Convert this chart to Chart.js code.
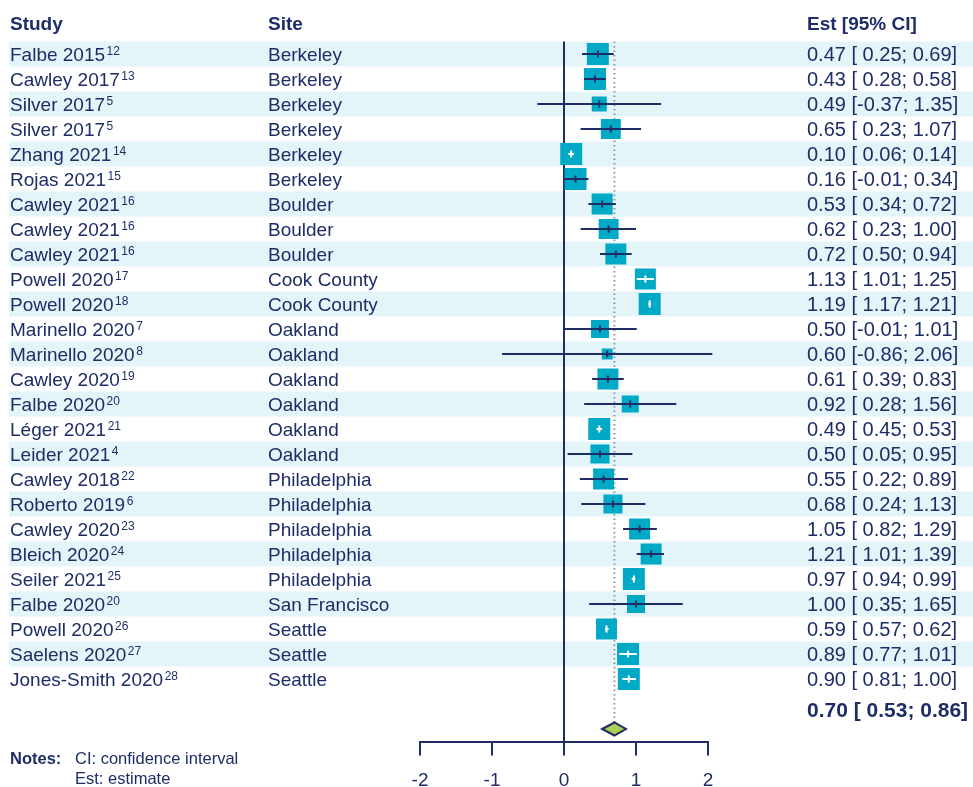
<!DOCTYPE html>
<html lang="en">
<head>
<meta charset="UTF-8">
<title>Forest plot</title>
<script src="https://cdn.jsdelivr.net/npm/chart.js"></script>
<style>
  body { margin: 0; background: #fff; }
</style>
</head>
<body>
<canvas id="forest" width="973" height="787"></canvas>
<script>
// study rows, top to bottom
const studies = ['Falbe 2015', 'Cawley 2017', 'Silver 2017', 'Silver 2017', 'Zhang 2021', 'Rojas 2021',
  'Cawley 2021', 'Cawley 2021', 'Cawley 2021', 'Powell 2020', 'Powell 2020', 'Marinello 2020',
  'Marinello 2020', 'Cawley 2020', 'Falbe 2020', 'Léger 2021', 'Leider 2021', 'Cawley 2018',
  'Roberto 2019', 'Cawley 2020', 'Bleich 2020', 'Seiler 2021', 'Falbe 2020', 'Powell 2020',
  'Saelens 2020', 'Jones-Smith 2020'];
const refs = ['12', '13', '5', '5', '14', '15', '16', '16', '16', '17', '18', '7', '8', '19', '20', '21',
  '4', '22', '6', '23', '24', '25', '20', '26', '27', '28'];
const sites = ['Berkeley', 'Berkeley', 'Berkeley', 'Berkeley', 'Berkeley', 'Berkeley',
  'Boulder', 'Boulder', 'Boulder', 'Cook County', 'Cook County', 'Oakland', 'Oakland', 'Oakland',
  'Oakland', 'Oakland', 'Oakland', 'Philadelphia', 'Philadelphia', 'Philadelphia', 'Philadelphia',
  'Philadelphia', 'San Francisco', 'Seattle', 'Seattle', 'Seattle'];
const est = [0.47, 0.43, 0.49, 0.65, 0.10, 0.16, 0.53, 0.62, 0.72, 1.13, 1.19, 0.50, 0.60, 0.61,
  0.92, 0.49, 0.50, 0.55, 0.68, 1.05, 1.21, 0.97, 1.00, 0.59, 0.89, 0.90];
const lower = [0.25, 0.28, -0.37, 0.23, 0.06, -0.01, 0.34, 0.23, 0.50, 1.01, 1.17, -0.01, -0.86, 0.39,
  0.28, 0.45, 0.05, 0.22, 0.24, 0.82, 1.01, 0.94, 0.35, 0.57, 0.77, 0.81];
const upper = [0.69, 0.58, 1.35, 1.07, 0.14, 0.34, 0.72, 1.00, 0.94, 1.25, 1.21, 1.01, 2.06, 0.83,
  1.56, 0.53, 0.95, 0.89, 1.13, 1.29, 1.39, 0.99, 1.65, 0.62, 1.01, 1.00];
// study weights (%)
const weights = [4.5, 4.5, 2.1, 3.7, 4.5, 4.5, 4.1, 3.7, 4.1, 4.1, 4.5, 3.0, 1.1, 4.1, 2.7, 4.5,
  3.4, 4.1, 3.4, 4.1, 4.1, 4.5, 3.0, 4.1, 4.5, 4.5];
const pooled = [0.70, 0.53, 0.86]; // est, lower, upper
const xTicks = [-2, -1, 0, 1, 2];

const navy = '#1e2d66';
const teal = '#00a9c5';
const stripe = '#e3f5f9';
const FONT = '"Liberation Sans", Arial, sans-serif';
const summaryRow = studies.length + 1;

// box side in px, area proportional to weight
const boxSide = w => 22 * Math.sqrt(w / 4.5);

function fmtCI(e, lo, hi) {
  const pad = v => (v < 0 ? '' : ' ') + v.toFixed(2);
  return e.toFixed(2) + ' [' + pad(lo) + '; ' + hi.toFixed(2) + ']';
}

const forestPlugin = {
  id: 'forest',
  beforeDraw(chart) {
    const ctx = chart.ctx, ys = chart.scales.y;
    ctx.save();
    ctx.fillStyle = stripe;
    for (let i = 0; i < studies.length; i += 2) {
      const t = ys.getPixelForValue(i - 0.5), b = ys.getPixelForValue(i + 0.5);
      ctx.fillRect(9, t, chart.width - 9, b - t);
    }
    ctx.restore();
  },
  afterDatasetsDraw(chart) {
    const ctx = chart.ctx, xs = chart.scales.x, ys = chart.scales.y;
    ctx.save();
    ctx.lineWidth = 2;
    est.forEach((e, i) => {
      const cx = xs.getPixelForValue(e), cy = ys.getPixelForValue(i);
      const xl = xs.getPixelForValue(lower[i]), xh = xs.getPixelForValue(upper[i]);
      const half = boxSide(weights[i]) / 2;
      const inside = Math.max(cx - xl, xh - cx) < half - 1;
      ctx.strokeStyle = inside ? '#ffffff' : navy;
      ctx.beginPath();
      ctx.moveTo(xl, cy); ctx.lineTo(xh, cy);
      ctx.moveTo(cx, cy - 3.5); ctx.lineTo(cx, cy + 3.5);
      ctx.stroke();
    });
    // pooled diamond
    const dy = ys.getPixelForValue(summaryRow);
    ctx.beginPath();
    ctx.moveTo(xs.getPixelForValue(pooled[1]), dy);
    ctx.lineTo(xs.getPixelForValue(pooled[0]), dy - 6.5);
    ctx.lineTo(xs.getPixelForValue(pooled[2]), dy);
    ctx.lineTo(xs.getPixelForValue(pooled[0]), dy + 6.5);
    ctx.closePath();
    ctx.fillStyle = '#a9cf54';
    ctx.fill();
    ctx.strokeStyle = navy;
    ctx.lineWidth = 2;
    ctx.stroke();
    ctx.restore();
  },
  afterDraw(chart) {
    const ctx = chart.ctx, ys = chart.scales.y;
    ctx.save();
    ctx.fillStyle = navy;
    ctx.textBaseline = 'alphabetic';
    ctx.textAlign = 'left';
    // headers
    ctx.font = 'bold 19px ' + FONT;
    ctx.fillText('Study', 10, 30);
    ctx.fillText('Site', 268, 30);
    ctx.fillText('Est [95% CI]', 807, 30);
    studies.forEach((s, i) => {
      const base = ys.getPixelForValue(i) + 7;
      ctx.font = '19px ' + FONT;
      ctx.fillText(s, 10, base);
      const w = ctx.measureText(s).width;
      ctx.fillText(sites[i], 268, base);
      ctx.font = '20px ' + FONT;
      ctx.fillText(fmtCI(est[i], lower[i], upper[i]), 807, base);
      ctx.font = '12px ' + FONT;
      ctx.fillText(refs[i], 10 + w + 1.5, base - 6.5);
    });
    // pooled estimate
    ctx.font = 'bold 21px ' + FONT;
    ctx.fillText(fmtCI(pooled[0], pooled[1], pooled[2]), 807, ys.getPixelForValue(summaryRow) - 12.5);
    // notes
    ctx.font = 'bold 16.5px ' + FONT;
    ctx.fillText('Notes:', 10, 764);
    ctx.font = '16.5px ' + FONT;
    ctx.fillText('CI: confidence interval', 75, 764);
    ctx.fillText('Est: estimate', 75, 784);
    ctx.restore();
  }
};

const ctx = document.getElementById('forest').getContext('2d');
const chart = new Chart(ctx, {
  type: 'scatter',
  data: {
    datasets: [{
      label: 'Studies',
      data: est.map((e, i) => ({ x: e, y: i })),
      pointStyle: 'rect',
      pointRadius: weights.map(w => boxSide(w) / Math.SQRT2),
      backgroundColor: teal,
      borderWidth: 0
    }, {
      type: 'line',
      label: 'Pooled',
      data: [{ x: pooled[0], y: -0.5 }, { x: pooled[0], y: summaryRow - 0.27 }],
      borderColor: '#8d92b0',
      borderWidth: 2,
      borderDash: [1.5, 3],
      pointRadius: 0
    }]
  },
  options: {
    responsive: false,
    animation: false,
    events: [],
    layout: { padding: { left: 420, right: 265, top: 41.5, bottom: 0.5 } },
    plugins: { legend: { display: false }, tooltip: { enabled: false } },
    scales: {
      x: {
        type: 'linear',
        min: -2,
        max: 2,
        afterBuildTicks: s => { s.ticks = xTicks.map(v => ({ value: v })); },
        afterFit: s => { s.height = 45; },
        grid: {
          color: c => (c.tick && c.tick.value === 0 ? navy : 'rgba(0,0,0,0)'),
          tickColor: navy,
          lineWidth: 2,
          tickWidth: 2,
          tickLength: 14
        },
        border: { display: true, color: navy, width: 2 },
        ticks: { color: navy, padding: 16, font: { family: FONT, size: 19, lineHeight: 1 }, maxRotation: 0 }
      },
      y: {
        type: 'linear',
        display: false,
        reverse: true,
        min: -0.5,
        max: summaryRow + 0.5
      }
    }
  },
  plugins: [forestPlugin]
});
</script>
</body>
</html>
